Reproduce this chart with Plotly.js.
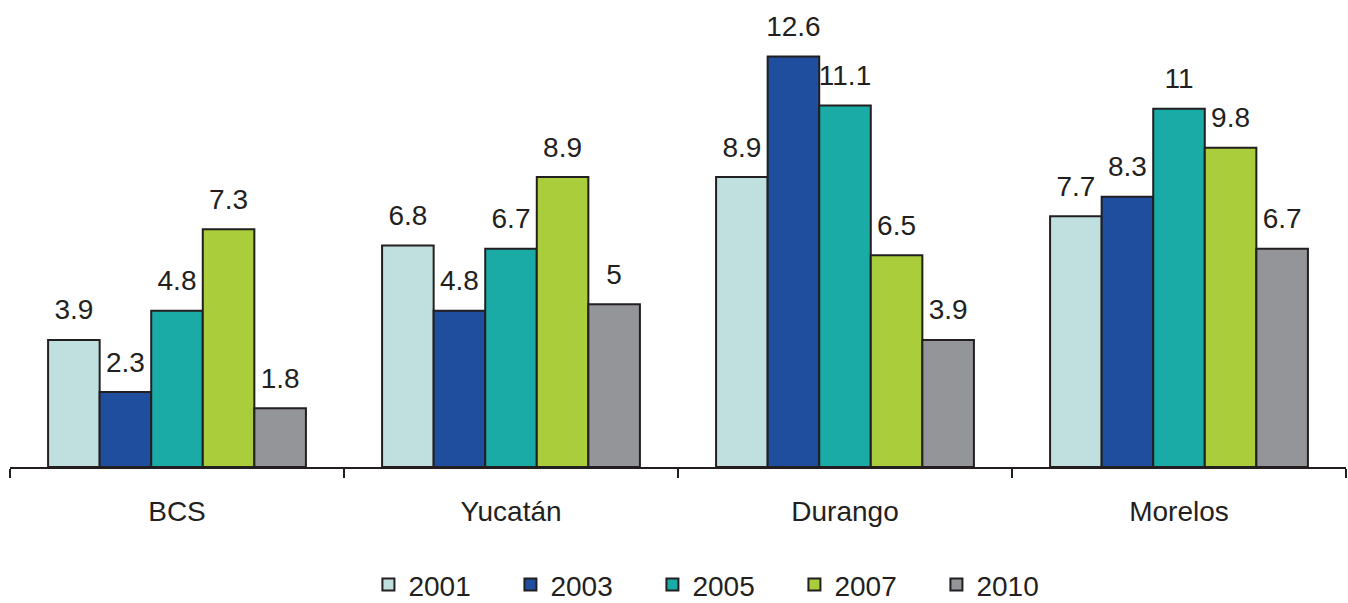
<!DOCTYPE html>
<html>
<head>
<meta charset="utf-8">
<script src="https://cdn.plot.ly/plotly-3.0.1.min.js"></script>
<style>html,body{margin:0;padding:0;background:#fff;}#chart{width:1348px;height:603px;}</style>
</head>
<body>
<div id="chart"></div>
<script>
const categories = ['BCS', 'Yucatán', 'Durango', 'Morelos'];
const years = ['2001', '2003', '2005', '2007', '2010'];
const v2001 = [3.9, 6.8, 8.9, 7.7];
const v2003 = [2.3, 4.8, 12.6, 8.3];
const v2005 = [4.8, 6.7, 11.1, 11];
const v2007 = [7.3, 8.9, 6.5, 9.8];
const v2010 = [1.8, 5, 3.9, 6.7];
const seriesValues = [v2001, v2003, v2005, v2007, v2010];
const colors = ['#c0e0df', '#1f4e9f', '#1aaba7', '#aacd3b', '#949599'];
const ink = '#231f20';
const font = 'Liberation Sans, Arial, sans-serif';

const traces = [];
years.forEach((yr, i) => {
  traces.push({
    type: 'bar', name: yr, x: categories, y: seriesValues[i],
    offsetgroup: yr,
    marker: {color: colors[i], line: {color: ink, width: 2}},
    hoverinfo: 'skip'
  });
});
years.forEach((yr, i) => {
  traces.push({
    type: 'scatter', mode: 'markers+text', name: yr + ' labels', x: categories, y: seriesValues[i],
    offsetgroup: yr, showlegend: false, cliponaxis: false,
    text: seriesValues[i].map(v => String(v)), textposition: 'top center',
    textfont: {family: font, size: 28, color: ink},
    marker: {size: 20, opacity: 0},
    hoverinfo: 'skip'
  });
});

const layout = {
  width: 1348, height: 603,
  margin: {l: 10, r: 2, t: 11, b: 136},
  paper_bgcolor: '#ffffff', plot_bgcolor: '#ffffff',
  barmode: 'group', bargap: 0.228, bargroupgap: 0,
  scattermode: 'group', scattergap: 0.228,
  font: {family: font, size: 28, color: ink},
  showlegend: true,
  legend: {orientation: 'h', x: 0.534, xanchor: 'center', yref: 'container', y: 0.03, yanchor: 'middle',
           font: {family: font, size: 28, color: ink}, entrywidth: 97, traceorder: 'normal'},
  xaxis: {type: 'category', showline: true, linecolor: ink, linewidth: 2,
          ticks: 'outside', tickson: 'boundaries', ticklen: 9, tickwidth: 2, tickcolor: ink,
          ticklabelstandoff: 18, tickfont: {family: font, size: 28, color: ink},
          showgrid: false, zeroline: false, fixedrange: true},
  yaxis: {range: [0, 14], visible: false, showgrid: false, zeroline: false, fixedrange: true}
};

Plotly.newPlot('chart', traces, layout, {displayModeBar: false, staticPlot: true});
</script>
</body>
</html>
